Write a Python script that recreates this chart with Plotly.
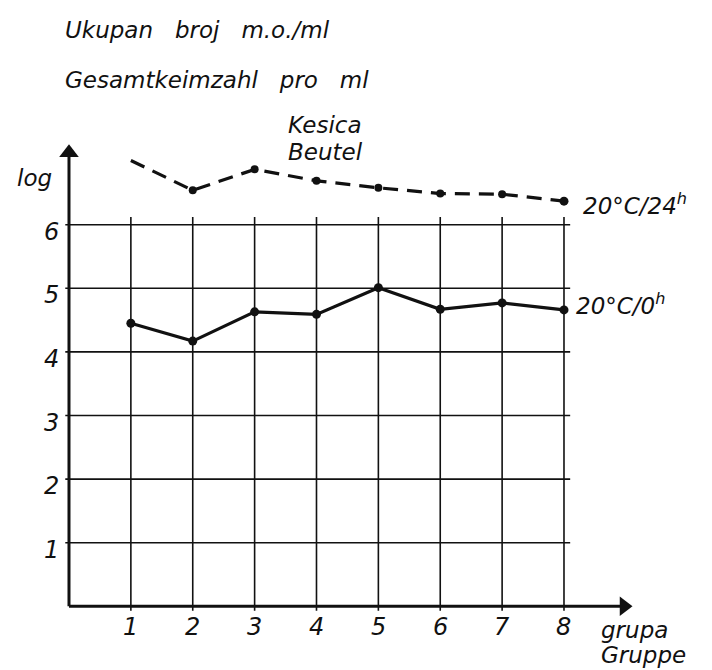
import plotly.graph_objects as go

# ---- data ----
groups = [1, 2, 3, 4, 5, 6, 7, 8]
log_24h = [7.01, 6.54, 6.87, 6.69, 6.58, 6.49, 6.48, 6.37]   # 20°C/24h (dashed)
log_0h = [4.45, 4.17, 4.63, 4.59, 5.01, 4.67, 4.77, 4.66]    # 20°C/0h (solid)
marker_24h = [0, 8, 8, 8, 8, 8, 8, 9]
y_ticks = [1, 2, 3, 4, 5, 6]
x_tick_labels = ["1", "2", "3", "4", "5", "6", "7", "8"]
y_tick_labels = ["1", "2", "3", "4", "5", "6"]
x_axis_end = 8.97
y_axis_end = 7.13

FONT = "DejaVu Sans"
INK = "#111111"

fig = go.Figure()

fig.add_trace(go.Scatter(
    x=groups, y=log_24h, mode="lines+markers",
    line=dict(color=INK, width=3.2, dash="15px,9px"),
    marker=dict(color=INK, size=marker_24h, line=dict(width=0), opacity=1),
    cliponaxis=False, showlegend=False, hoverinfo="skip"))
fig.add_trace(go.Scatter(
    x=groups, y=log_0h, mode="lines+markers",
    line=dict(color=INK, width=3.2),
    marker=dict(color=INK, size=9, line=dict(width=0)),
    cliponaxis=False, showlegend=False, hoverinfo="skip"))
# arrow heads of the axes
fig.add_trace(go.Scatter(
    x=[x_axis_end], y=[0], mode="markers",
    marker=dict(symbol="triangle-right", size=17, color=INK, line=dict(width=0)),
    cliponaxis=False, showlegend=False, hoverinfo="skip"))
fig.add_trace(go.Scatter(
    x=[0], y=[y_axis_end], mode="markers",
    marker=dict(symbol="triangle-up", size=17, color=INK, line=dict(width=0)),
    cliponaxis=False, showlegend=False, hoverinfo="skip"))

shapes = []
# vertical grid lines
for g in groups:
    shapes.append(dict(type="line", xref="x", yref="y", x0=g, x1=g, y0=-0.07, y1=6.12,
                       line=dict(color=INK, width=1.6), layer="below"))
# horizontal grid lines
for v in y_ticks:
    shapes.append(dict(type="line", xref="x", yref="y", x0=-0.06, x1=8.1, y0=v, y1=v,
                       line=dict(color=INK, width=1.6), layer="below"))
# axes lines
shapes.append(dict(type="line", xref="x", yref="y", x0=0, x1=x_axis_end - 0.05, y0=0, y1=0,
                   line=dict(color=INK, width=3), layer="below"))
shapes.append(dict(type="line", xref="x", yref="y", x0=0, x1=0, y0=0, y1=y_axis_end - 0.05,
                   line=dict(color=INK, width=3), layer="below"))
fig.update_layout(shapes=shapes)

ann = []
tf = dict(family=FONT, size=24, color=INK, style="italic")
for g, lab in zip(groups, x_tick_labels):
    ann.append(dict(x=g, y=-0.33, xref="x", yref="y", text=lab, showarrow=False,
                    font=tf, xanchor="center", yanchor="middle"))
for v, lab in zip(y_ticks, y_tick_labels):
    ann.append(dict(x=-0.13, y=v, xref="x", yref="y", text=lab, showarrow=False,
                    font=tf, xanchor="right", yanchor="middle", yshift=-7))

lf = dict(family=FONT, size=23, color=INK, style="italic")
texts = [
    ("Ukupan   broj   m.o./ml", -0.1, 9.06),
    ("Gesamtkeimzahl   pro   ml", -0.1, 8.27),
    ("Kesica", 3.5, 7.57),
    ("Beutel", 3.5, 7.14),
    ("20°C/24<sup>h</sup>", 8.27, 6.33),
    ("20°C/0<sup>h</sup>", 8.16, 4.76),
    ("grupa", 8.56, -0.37),
    ("Gruppe", 8.56, -0.77),
]
for t, x, y in texts:
    ann.append(dict(x=x, y=y, xref="x", yref="y", text=t, showarrow=False,
                    font=lf, xanchor="left", yanchor="middle"))
ann.append(dict(x=-0.55, y=6.73, xref="x", yref="y", text="log", showarrow=False,
                font=lf, xanchor="center", yanchor="middle"))
fig.update_layout(annotations=ann)

fig.update_layout(
    width=712, height=670,
    margin=dict(l=0, r=0, t=0, b=0),
    paper_bgcolor="white", plot_bgcolor="white",
    xaxis=dict(range=[-1.115, 10.392], visible=False, fixedrange=True),
    yaxis=dict(range=[-1.0016, 9.533], visible=False, fixedrange=True),
)

fig.write_html("out.html")
